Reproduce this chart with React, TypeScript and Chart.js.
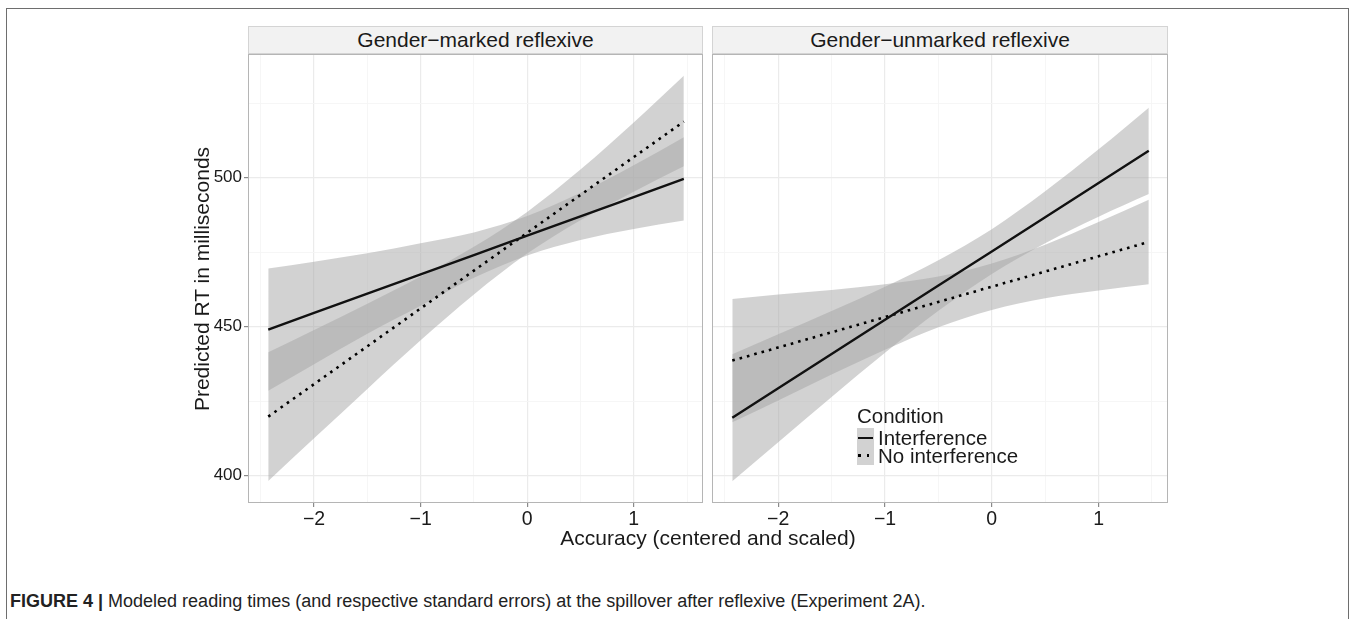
import React, { useEffect, useRef } from 'react';
import { Chart, registerables } from 'chart.js';

Chart.register(...registerables);

// ---------- data ----------
const panelTitles = ['Gender\u2212marked reflexive', 'Gender\u2212unmarked reflexive'];
const seriesNames = ['Interference', 'No interference'];

const accuracy = [-2.43, -2, -1.5, -1, -0.5, 0, 0.5, 1, 1.47];

// Gender-marked reflexive
const markedInterferenceFit = [449.0, 454.6, 461.1, 467.5, 474.0, 480.5, 487.0, 493.5, 499.6];
const markedInterferenceLow = [428.5, 437.4, 447.6, 457.0, 466.4, 473.9, 479.1, 482.8, 485.6];
const markedInterferenceHigh = [469.5, 471.8, 474.6, 478.0, 481.6, 487.1, 494.9, 504.2, 513.6];
const markedNoInterferenceFit = [419.8, 430.7, 443.4, 456.1, 468.8, 481.5, 494.2, 506.9, 518.8];
const markedNoInterferenceLow = [398.2, 412.5, 429.1, 445.4, 460.8, 474.5, 485.7, 495.3, 503.8];
const markedNoInterferenceHigh = [441.4, 448.9, 457.7, 466.8, 476.8, 488.5, 502.7, 518.5, 534.2];

// Gender-unmarked reflexive
const unmarkedInterferenceFit = [419.4, 429.3, 440.8, 452.3, 463.8, 475.2, 486.7, 498.2, 509.0];
const unmarkedInterferenceLow = [398.1, 411.2, 426.4, 441.2, 455.3, 467.7, 478.0, 486.9, 494.5];
const unmarkedInterferenceHigh = [440.7, 447.4, 455.2, 463.4, 472.3, 482.7, 495.4, 509.5, 523.5];
const unmarkedNoInterferenceFit = [438.6, 443.0, 448.1, 453.2, 458.3, 463.4, 468.5, 473.6, 478.4];
const unmarkedNoInterferenceLow = [417.9, 425.2, 433.9, 442.2, 449.8, 455.6, 459.5, 462.1, 464.2];
const unmarkedNoInterferenceHigh = [459.3, 460.8, 462.3, 464.2, 466.8, 471.2, 477.5, 485.1, 492.6];

const xTicks = [-2.5, -2, -1.5, -1, -0.5, 0, 0.5, 1, 1.5];
const xMajorTicks = [-2, -1, 0, 1];
const yTicks = [400, 425, 450, 475, 500, 525];
const yMajorTicks = [400, 450, 500];

const xAxisTitle = 'Accuracy (centered and scaled)';
const yAxisTitle = 'Predicted RT in milliseconds';
const legendTitle = 'Condition';
const captionBold = 'FIGURE 4 |';
const captionText = ' Modeled reading times (and respective standard errors) at the spillover after reflexive (Experiment 2A).';

// ---------- styling ----------
const FONT = '"Liberation Sans", Arial, Helvetica, sans-serif';
const X_MIN = -2.62;
const X_MAX = 1.65;
const Y_MIN = 390.8;
const Y_MAX = 541.5;
const BAND = 'rgba(165,165,165,0.5)';
const TEXT = '#1a1a1a';

const isMajor = (list: number[], v: number) => list.some((m) => Math.abs(m - v) < 1e-6);
const fmt = (v: number) => (v < 0 ? '\u2212' + Math.abs(v) : String(v));

const pts = (ys: number[]) => accuracy.map((x, i) => ({ x, y: ys[i] }));

const framePlugin = {
  id: 'panelFrame',
  afterDraw(chart: any) {
    const { ctx, chartArea } = chart;
    ctx.save();
    ctx.strokeStyle = '#b5b5b5';
    ctx.lineWidth = 1;
    ctx.strokeRect(chartArea.left + 0.5, chartArea.top + 0.5, chartArea.right - chartArea.left - 1, chartArea.bottom - chartArea.top - 1);
    ctx.restore();
  },
};

const edge = (ys: number[], extra: any = {}) => ({
  data: pts(ys), borderWidth: 0, borderColor: 'rgba(0,0,0,0)', pointRadius: 0,
  cubicInterpolationMode: 'monotone', fill: false, ...extra,
});

function makeConfig(
  intFit: number[], intLow: number[], intHigh: number[],
  noFit: number[], noLow: number[], noHigh: number[],
  showY: boolean, padLeft: number, padRight: number
): any {
  return {
    type: 'line',
    data: {
      datasets: [
        { label: seriesNames[0], data: pts(intFit), borderColor: '#111', borderWidth: 2.4, pointRadius: 0, fill: false, tension: 0 },
        { label: seriesNames[1], data: pts(noFit), borderColor: '#000', borderWidth: 2.6, borderDash: [2.6, 5], pointRadius: 0, fill: false, tension: 0 },
        edge(intLow, { label: 'intLow' }),
        edge(intHigh, { label: 'intHigh', fill: { target: 2 }, backgroundColor: BAND }),
        edge(noLow, { label: 'noLow' }),
        edge(noHigh, { label: 'noHigh', fill: { target: 4 }, backgroundColor: BAND }),
      ],
    },
    options: {
      animation: false,
      responsive: false,
      maintainAspectRatio: false,
      devicePixelRatio: 1,
      events: [],
      layout: { padding: { left: padLeft, right: padRight, top: 54, bottom: 0 } },
      plugins: { legend: { display: false }, tooltip: { enabled: false }, title: { display: false } },
      scales: {
        x: {
          type: 'linear',
          min: X_MIN,
          max: X_MAX,
          afterBuildTicks: (s: any) => { s.ticks = xTicks.map((v) => ({ value: v })); },
          afterFit: (s: any) => { s.height = 37; },
          border: { display: false },
          grid: {
            color: (c: any) => (isMajor(xMajorTicks, c.tick?.value) ? '#ebebeb' : '#f5f5f5'),
            lineWidth: (c: any) => (isMajor(xMajorTicks, c.tick?.value) ? 1.2 : 0.9),
            tickColor: (c: any) => (isMajor(xMajorTicks, c.tick?.value) ? '#8a8a8a' : 'rgba(0,0,0,0)'),
            tickLength: 4,
            drawTicks: true,
          },
          ticks: {
            autoSkip: false,
            maxRotation: 0,
            padding: 1,
            color: TEXT,
            font: { family: FONT, size: 19.5 },
            callback: (v: any) => (isMajor(xMajorTicks, Number(v)) ? fmt(Number(v)) : ''),
          },
        },
        y: {
          type: 'linear',
          min: Y_MIN,
          max: Y_MAX,
          afterBuildTicks: (s: any) => { s.ticks = yTicks.map((v) => ({ value: v })); },
          afterFit: (s: any) => { s.width = showY ? 248 : 0; },
          border: { display: false },
          grid: {
            color: (c: any) => (isMajor(yMajorTicks, c.tick?.value) ? '#ebebeb' : '#f5f5f5'),
            lineWidth: (c: any) => (isMajor(yMajorTicks, c.tick?.value) ? 1.2 : 0.9),
            tickColor: (c: any) => (showY && isMajor(yMajorTicks, c.tick?.value) ? '#8a8a8a' : 'rgba(0,0,0,0)'),
            tickLength: 4,
            drawTicks: showY,
          },
          ticks: {
            display: showY,
            autoSkip: false,
            padding: 2,
            color: TEXT,
            font: { family: FONT, size: 17 },
            callback: (v: any) => (isMajor(yMajorTicks, Number(v)) ? fmt(Number(v)) : ''),
          },
        },
      },
    },
    plugins: [framePlugin],
  };
}

export default function App() {
  const leftRef = useRef<HTMLCanvasElement | null>(null);
  const rightRef = useRef<HTMLCanvasElement | null>(null);

  useEffect(() => {
    const c1 = new Chart(leftRef.current as HTMLCanvasElement, makeConfig(
      markedInterferenceFit, markedInterferenceLow, markedInterferenceHigh,
      markedNoInterferenceFit, markedNoInterferenceLow, markedNoInterferenceHigh,
      true, 0, 7));
    const c2 = new Chart(rightRef.current as HTMLCanvasElement, makeConfig(
      unmarkedInterferenceFit, unmarkedInterferenceLow, unmarkedInterferenceHigh,
      unmarkedNoInterferenceFit, unmarkedNoInterferenceLow, unmarkedNoInterferenceHigh,
      false, 8, 6));
    return () => { c1.destroy(); c2.destroy(); };
  }, []);

  const strip = (left: number, width: number, text: string) => (
    <div style={{
      position: 'absolute', left, top: 26, width, height: 28, boxSizing: 'border-box',
      background: '#f2f2f2', border: '1px solid #d4d4d4', display: 'flex', alignItems: 'center',
      justifyContent: 'center', font: `21px ${FONT}`, color: TEXT, whiteSpace: 'nowrap',
    }}>{text}</div>
  );

  return (
    <div style={{ position: 'absolute', left: 0, top: 0, width: 1358, height: 619, overflow: 'hidden', background: '#fff', fontFamily: FONT }}>
      <div style={{ position: 'absolute', left: 6, top: 8, width: 1343, height: 700, boxSizing: 'border-box', border: '1.5px solid #6e6e6e' }} />
      <canvas ref={leftRef} width={710} height={540} style={{ position: 'absolute', left: 0, top: 0, display: 'block' }} />
      <canvas ref={rightRef} width={470} height={540} style={{ position: 'absolute', left: 704, top: 0, display: 'block' }} />
      {strip(248, 455, panelTitles[0])}
      {strip(712, 456, panelTitles[1])}
      <div style={{ position: 'absolute', left: 458, top: 527, width: 500, textAlign: 'center', font: `21px ${FONT}`, color: TEXT, lineHeight: '22px' }}>{xAxisTitle}</div>
      <div style={{ position: 'absolute', left: 201 - 200, top: 279 - 11, width: 400, height: 22, lineHeight: '22px', textAlign: 'center', font: `21px ${FONT}`, color: TEXT, transform: 'rotate(-90deg)', transformOrigin: '200px 11px' }}>{yAxisTitle}</div>
      {/* legend */}
      <div style={{ position: 'absolute', left: 857, top: 405, font: `20.5px ${FONT}`, lineHeight: '22px', color: TEXT }}>{legendTitle}</div>
      <div style={{ position: 'absolute', left: 857, top: 428, width: 17, height: 37, background: '#d2d2d2' }} />
      <div style={{ position: 'absolute', left: 858, top: 436.5, width: 15, height: 2.4, background: '#111' }} />
      <div style={{ position: 'absolute', left: 858, top: 454, width: 2.5, height: 2.5, background: '#000' }} />
      <div style={{ position: 'absolute', left: 866.5, top: 454, width: 2.5, height: 2.5, background: '#000' }} />
      <div style={{ position: 'absolute', left: 878, top: 427, font: `20.5px ${FONT}`, lineHeight: '22px', color: TEXT, whiteSpace: 'nowrap' }}>{seriesNames[0]}</div>
      <div style={{ position: 'absolute', left: 878, top: 445, font: `20.5px ${FONT}`, lineHeight: '22px', color: TEXT, whiteSpace: 'nowrap' }}>{seriesNames[1]}</div>
      {/* caption */}
      <div style={{ position: 'absolute', left: 10, top: 590, font: `18px ${FONT}`, lineHeight: '22px', color: '#222', whiteSpace: 'nowrap' }}>
        <b>{captionBold}</b>{captionText}
      </div>
    </div>
  );
}
